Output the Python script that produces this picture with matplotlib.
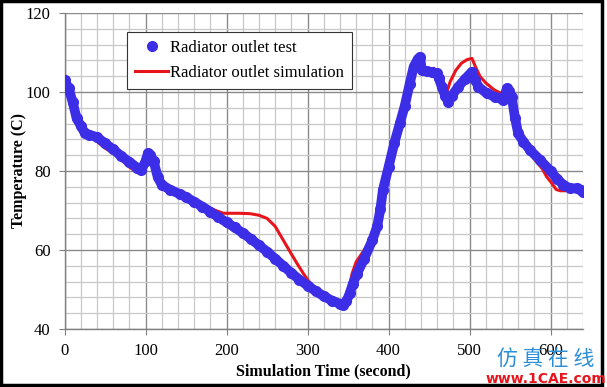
import matplotlib
matplotlib.use("Agg")
import matplotlib.pyplot as plt
from matplotlib.patches import Rectangle
from matplotlib.ticker import MultipleLocator

# ---- data ----
test_x = [0, 5, 10, 15, 20, 25, 30, 40, 50, 60, 70, 80, 90, 95, 100, 103, 106, 110, 115, 120,
          130, 142, 150, 160, 170, 180, 190, 200, 210, 220, 230, 240, 250, 260, 270, 280, 290,
          300, 310, 320, 330, 340, 344, 348, 352, 356, 361, 370, 380, 386, 390, 393, 400, 407,
          414, 420, 426, 431, 436, 439, 441, 447, 453, 459.5, 462, 465.7, 470, 473.8, 478, 486,
          494, 502.7, 507, 511, 521, 531, 541.7, 546, 549, 552, 556, 560, 566.4, 575, 587, 600,
          608, 615.8, 624, 632, 637, 640]
test_y = [103, 101, 97.5, 93.3, 91.5, 89.6, 89.2, 88.6, 87, 85.5, 83.8, 82.3, 80.8, 80.3, 82.5,
          84.5, 84, 82.5, 78.5, 76.5, 75.3, 74.2, 73.4, 72.2, 71, 69.7, 68.3, 67, 65.7, 64.3,
          62.8, 61.2, 59.6, 57.8, 56, 54.2, 52.5, 51, 49.6, 48.3, 47.2, 46.4, 46.1, 47, 49, 51.5,
          54, 57.8, 62.5, 66, 70.5, 75.2, 81, 87, 92.1, 96.5, 102, 106.4, 108.3, 108.9, 105.6,
          105.2, 105, 104.7, 103.5, 101.3, 99, 97.5, 99, 101.3, 103.2, 105.1, 103, 101.3, 99.7,
          98.8, 98, 100.9, 100.3, 98.8, 93.5, 89.5, 87.4, 85.2, 82.8, 80, 78, 76.5, 75.6, 75.6,
          75.3, 74.8]

sim_x = [0, 5, 10, 15, 20, 25, 30, 40, 50, 60, 70, 80, 90, 95, 100, 105, 110, 120, 140, 160,
         180, 196, 215, 229, 240, 250, 260, 270, 280, 287, 295, 301, 310, 320, 330, 340, 345,
         350, 355, 360, 370, 380, 388, 395, 400, 410, 420, 430, 437, 442, 450, 456, 462, 468,
         472, 476, 483, 490, 497, 503, 507, 513, 520, 530, 538, 545, 550, 555, 560, 570, 580,
         590, 595, 600, 607, 612, 620, 630]
sim_y = [104.6, 101, 97, 93, 91, 89.5, 89, 87.5, 85.8, 84.5, 82.8, 81, 79.6, 79.5, 81.5, 83.5,
         81, 76.5, 73.8, 71.8, 70.5, 69.3, 69.3, 69.2, 68.8, 68, 66, 62.5, 59, 56.6, 54, 52.2,
         50.3, 48.5, 47.3, 46.5, 46.5, 49, 54, 57, 60, 63.5, 66, 75, 80, 89, 97, 104.5, 108.5,
         106, 105.5, 106, 103, 100.5, 100, 102.6, 105.5, 107.3, 108.2, 108.5, 106.5, 103.9,
         102.3, 100.6, 99.7, 100.5, 99, 94, 89.5, 86, 83, 80.5, 78.6, 77.3, 75.3, 75, 75, 75]

x_ticks = [0, 100, 200, 300, 400, 500, 600]
y_ticks = [40, 60, 80, 100, 120]

BLUE = "#3c2ee6"
RED = "#e8141c"

plt.rcParams['font.family'] = ['Liberation Serif', 'DejaVu Serif']

fig = plt.figure(figsize=(6.07, 3.87), dpi=100)
ax = fig.add_axes([64.5 / 607, 1 - 329 / 387, (583 - 64.5) / 607, (329 - 13) / 387])

ax.set_xlim(0, 640)
ax.set_ylim(40, 120)
ax.xaxis.set_minor_locator(MultipleLocator(20))
ax.yaxis.set_minor_locator(MultipleLocator(4))
ax.set_xticks(x_ticks)
ax.set_yticks(y_ticks)

ax.grid(which='minor', color='#c8c8c8', lw=0.9)
ax.grid(which='major', color='#8a8a8a', lw=1.0)
ax.set_axisbelow(True)

for s in ['top', 'right']:
    ax.spines[s].set_visible(False)
for s in ['left', 'bottom']:
    ax.spines[s].set_color('#808080')
    ax.spines[s].set_linewidth(1.0)

ax.tick_params(which='major', direction='out', length=4, color='#808080',
               labelsize=12, pad=6)
ax.tick_params(which='minor', length=0)

# test data: band of overlapping markers
ax.plot(test_x, test_y, color=BLUE, lw=7, solid_capstyle='round',
        solid_joinstyle='round', zorder=3)
ax.plot(test_x, test_y, 'o', color=BLUE, ms=7, zorder=3,
        label='Radiator outlet test')
ax.plot(sim_x, sim_y, color=RED, lw=2.2, zorder=2,
        label='Radiator outlet simulation')

leg = ax.legend(loc='upper left', bbox_to_anchor=(0.12, 0.94), fontsize=12,
                frameon=True, fancybox=False, borderpad=0.5, handlelength=2.0,
                handletextpad=0.1, labelspacing=0.5, borderaxespad=0)
leg.get_frame().set_edgecolor('#333333')
leg.get_frame().set_linewidth(0.8)
leg.get_frame().set_alpha(1)

ax.set_xlabel('Simulation Time (second)', fontsize=11.5, fontweight='bold', labelpad=3)
ax.set_ylabel('Temperature (C)', fontsize=11.5, fontweight='bold', va='center')
ax.yaxis.set_label_coords((19 - 64.5) / 518.5, 0.5)

# watermark text in corner
fig.text(546 / 607, 1 - 360 / 387, '仿 真 在 线', ha='center', va='center', fontsize=15,
         color='#2a8fd8', family=['Noto Sans CJK SC', 'DejaVu Sans'])
fig.text(546 / 607, 1 - 379 / 387, 'www.1CAE.com', ha='center', va='center', fontsize=10,
         color='#e8141c', fontweight='bold', family=['DejaVu Sans'])

# figure border
fig.patches.append(Rectangle((0.002, 0.004), 0.989, 0.993, transform=fig.transFigure,
                             fill=False, edgecolor='black', lw=2.5))

fig.savefig('out.png', dpi=100)
